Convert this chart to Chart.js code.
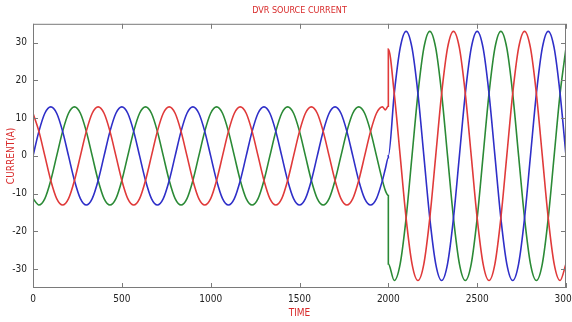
<!DOCTYPE html>
<html>
<head>
<meta charset="utf-8">
<script src="https://cdn.jsdelivr.net/npm/chart.js@4/dist/chart.umd.min.js"></script>
<style>
  html, body { margin: 0; padding: 0; background: #fff; }
  #wrap { width: 572px; height: 322px; }
</style>
</head>
<body>
<div id="wrap"><canvas id="dvrChart" width="572" height="322"></canvas></div>
<script>
// sample times (2000 appears twice: value before and after the fault)
const times = [
  0, 33.3, 66.7, 100, 133.3, 166.7, 200, 233.3, 266.7, 300, 333.3, 366.7,
  400, 433.3, 466.7, 500, 533.3, 566.7, 600, 633.3, 666.7, 700, 733.3, 766.7,
  800, 833.3, 866.7, 900, 933.3, 966.7, 1000, 1033.3, 1066.7, 1100, 1133.3, 1166.7,
  1200, 1233.3, 1266.7, 1300, 1333.3, 1366.7, 1400, 1433.3, 1466.7, 1500, 1533.3, 1566.7,
  1600, 1633.3, 1666.7, 1700, 1733.3, 1766.7, 1800, 1833.3, 1866.7, 1900, 1933.3, 1966.7,
  1983.3, 2000, 2000,
  2033.3, 2066.7, 2100, 2133.3, 2166.7, 2200, 2233.3, 2266.7, 2300, 2333.3, 2366.7, 2400,
  2433.3, 2466.7, 2500, 2533.3, 2566.7, 2600, 2633.3, 2666.7, 2700, 2733.3, 2766.7, 2800,
  2833.3, 2866.7, 2900, 2933.3, 2966.7, 3000
];

const phaseA = [
  11.3, 6.5, 0, -6.5, -11.3, -13, -11.3, -6.5, 0, 6.5, 11.3, 13,
  11.3, 6.5, 0, -6.5, -11.3, -13, -11.3, -6.5, 0, 6.5, 11.3, 13,
  11.3, 6.5, 0, -6.5, -11.3, -13, -11.3, -6.5, 0, 6.5, 11.3, 13,
  11.3, 6.5, 0, -6.5, -11.3, -13, -11.3, -6.5, 0, 6.5, 11.3, 13,
  11.3, 6.5, 0, -6.5, -11.3, -13, -11.3, -6.5, 0, 6.5, 11.3, 13,
  12.2, 13.2, 28.3,
  16.5, 0, -16.5, -28.6, -33, -28.6, -16.5, 0, 16.5, 28.6, 33, 28.6,
  16.5, 0, -16.5, -28.6, -33, -28.6, -16.5, 0, 16.5, 28.6, 33, 28.6,
  16.5, 0, -16.5, -28.6, -33, -28.6
];

const phaseB = [
  0, 6.5, 11.3, 13, 11.3, 6.5, 0, -6.5, -11.3, -13, -11.3, -6.5,
  0, 6.5, 11.3, 13, 11.3, 6.5, 0, -6.5, -11.3, -13, -11.3, -6.5,
  0, 6.5, 11.3, 13, 11.3, 6.5, 0, -6.5, -11.3, -13, -11.3, -6.5,
  0, 6.5, 11.3, 13, 11.3, 6.5, 0, -6.5, -11.3, -13, -11.3, -6.5,
  0, 6.5, 11.3, 13, 11.3, 6.5, 0, -6.5, -11.3, -13, -11.3, -6.5,
  -3.4, -0.5, 0,
  16.5, 28.6, 33, 28.6, 16.5, 0, -16.5, -28.6, -33, -28.6, -16.5, 0,
  16.5, 28.6, 33, 28.6, 16.5, 0, -16.5, -28.6, -33, -28.6, -16.5, 0,
  16.5, 28.6, 33, 28.6, 16.5, 0
];

const phaseC = [
  -11.3, -13, -11.3, -6.5, 0, 6.5, 11.3, 13, 11.3, 6.5, 0, -6.5,
  -11.3, -13, -11.3, -6.5, 0, 6.5, 11.3, 13, 11.3, 6.5, 0, -6.5,
  -11.3, -13, -11.3, -6.5, 0, 6.5, 11.3, 13, 11.3, 6.5, 0, -6.5,
  -11.3, -13, -11.3, -6.5, 0, 6.5, 11.3, 13, 11.3, 6.5, 0, -6.5,
  -11.3, -13, -11.3, -6.5, 0, 6.5, 11.3, 13, 11.3, 6.5, 0, -6.5,
  -9.2, -10.5, -28.6,
  -33, -28.6, -16.5, 0, 16.5, 28.6, 33, 28.6, 16.5, 0, -16.5, -28.6,
  -33, -28.6, -16.5, 0, 16.5, 28.6, 33, 28.6, 16.5, 0, -16.5, -28.6,
  -33, -28.6, -16.5, 0, 16.5, 28.6
];

const xTicks = [0, 500, 1000, 1500, 2000, 2500, 3000];
const yTicks = [-30, -20, -10, 0, 10, 20, 30];

const FONT = "'Liberation Sans Narrow', 'DejaVu Sans Condensed', 'Liberation Sans', sans-serif";

function pts(vals) {
  return times.map((t, i) => ({ x: t, y: vals[i] }));
}

// matlab style box with inward tick marks
const boxPlugin = {
  id: 'box',
  afterDatasetsDraw(chart) {
    const { ctx, chartArea: a, scales } = chart;
    ctx.save();
    ctx.strokeStyle = '#7a7a7a';
    ctx.lineWidth = 1;
    ctx.strokeRect(a.left + 0.5, a.top + 0.5, a.right - a.left - 1, a.bottom - a.top - 1);
    ctx.beginPath();
    xTicks.forEach(v => {
      const px = Math.round(scales.x.getPixelForValue(v)) + 0.5;
      ctx.moveTo(px, a.bottom); ctx.lineTo(px, a.bottom - 5);
      ctx.moveTo(px, a.top); ctx.lineTo(px, a.top + 5);
    });
    yTicks.forEach(v => {
      const py = Math.round(scales.y.getPixelForValue(v)) + 0.5;
      ctx.moveTo(a.left, py); ctx.lineTo(a.left + 5, py);
      ctx.moveTo(a.right, py); ctx.lineTo(a.right - 5, py);
    });
    ctx.stroke();
    ctx.restore();
  }
};

new Chart(document.getElementById('dvrChart'), {
  type: 'line',
  data: {
    datasets: [
      { label: 'Phase A', data: pts(phaseA), borderColor: '#e03a3a' },
      { label: 'Phase B', data: pts(phaseB), borderColor: '#2f2fc8' },
      { label: 'Phase C', data: pts(phaseC), borderColor: '#2b8a36' }
    ]
  },
  options: {
    responsive: false,
    animation: false,
    layout: { padding: { left: 0, right: 6, top: 0, bottom: 0 } },
    elements: {
      point: { radius: 0 },
      line: { borderWidth: 1.6, cubicInterpolationMode: 'monotone', fill: false }
    },
    plugins: {
      legend: { display: false },
      tooltip: { enabled: false },
      title: {
        display: true,
        text: 'DVR SOURCE CURRENT',
        color: '#d82a2a',
        fullSize: false,
        font: { family: FONT, size: 9, weight: 'normal' },
        padding: { top: 5, bottom: 8 }
      }
    },
    scales: {
      x: {
        type: 'linear',
        min: 0,
        max: 3000,
        afterBuildTicks(s) { s.ticks = xTicks.map(v => ({ value: v })); },
        ticks: {
          color: '#222', font: { family: FONT, size: 10 }, padding: 5, maxRotation: 0,
          callback: v => String(v)
        },
        grid: { display: false, drawTicks: false },
        border: { display: false },
        title: {
          display: true, text: 'TIME', color: '#d82a2a',
          font: { family: FONT, size: 10 }, padding: { top: 0, bottom: 3 }
        },
        afterFit(s) { s.height = 34; s.paddingLeft = 0; s.paddingRight = 0; }
      },
      y: {
        type: 'linear',
        min: -35,
        max: 35,
        afterBuildTicks(s) { s.ticks = yTicks.map(v => ({ value: v })); },
        ticks: { color: '#222', font: { family: FONT, size: 10 }, padding: 6 },
        grid: { display: false, drawTicks: false },
        border: { display: false },
        title: {
          display: true, text: 'CURRENT(A)', color: '#d82a2a',
          font: { family: FONT, size: 10 }, padding: { top: 5, bottom: 0 }
        },
        afterFit(s) { s.width = 33; s.paddingTop = 0; s.paddingBottom = 0; }
      }
    }
  },
  plugins: [boxPlugin]
});
</script>
</body>
</html>
